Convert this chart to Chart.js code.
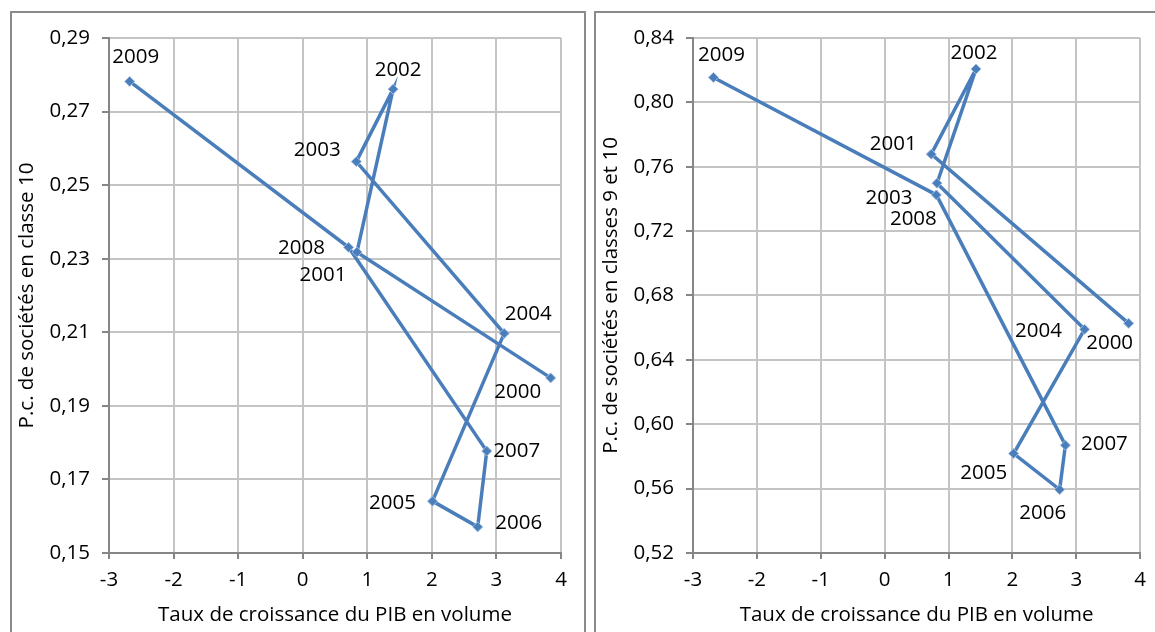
<!DOCTYPE html>
<html>
<head>
<meta charset="utf-8">
<script src="https://cdn.jsdelivr.net/npm/chart.js@4"></script>
<style>
  body { margin: 0; background: #fff; width: 1155px; height: 632px; overflow: hidden; position: relative; }
  .box { position: absolute; border: 2px solid #8a8a8a; border-bottom: none; }
  #box1 { left: 10px; top: 11px; width: 572px; height: 640px; }
  #box2 { left: 594px; top: 11px; width: 580px; height: 640px; }
  canvas { position: absolute; }
  #c1 { left: 12px; top: 13px; }
  #c2 { left: 596px; top: 13px; }
</style>
</head>
<body>
<div class="box" id="box1"></div>
<div class="box" id="box2"></div>
<canvas id="c1" width="572" height="619"></canvas>
<canvas id="c2" width="559" height="619"></canvas>
<script>
// Data
let years = ['2000', '2001', '2002', '2003', '2004', '2005', '2006', '2007', '2008', '2009'];
let pibLeft = [3.84, 0.84, 1.40, 0.83, 3.12, 2.01, 2.71, 2.85, 0.71, -2.68];
let classe10 = [0.1976, 0.2318, 0.2761, 0.2564, 0.2097, 0.1641, 0.1571, 0.1777, 0.2331, 0.2782];
let pibRight = [3.82, 0.73, 1.43, 0.82, 3.13, 2.02, 2.74, 2.83, 0.81, -2.68];
let classes9et10 = [0.6627, 0.7678, 0.8207, 0.7498, 0.659, 0.5818, 0.5594, 0.587, 0.7425, 0.8155];

let xTicks = [-3, -2, -1, 0, 1, 2, 3, 4];
let leftTicks = [0.15, 0.17, 0.19, 0.21, 0.23, 0.25, 0.27, 0.29];
let rightTicks = [0.52, 0.56, 0.60, 0.64, 0.68, 0.72, 0.76, 0.80, 0.84];

// where each year label sits relative to its point (dx, dy in px)
let leftLabelPos = [[-33, 14], [-34, 23], [5, -19], [-39, -11], [24, -19], [-40, 2], [41, -4], [30, 0], [-47, 1], [6, -24]];
let rightLabelPos = [[-19, 20], [-38, -10], [-2, -16], [-48, 15], [-46, 2], [-30, 20], [-17, 24], [39, -1], [-23, 24], [8, -22]];

const FONT = "'Open Sans', sans-serif";
const blue = '#4a7ebb';

let yearLabels = {
  id: 'yearLabels',
  afterDatasetsDraw(chart, args, opts) {
    let ctx = chart.ctx;
    let meta = chart.getDatasetMeta(0);
    ctx.save();
    ctx.font = '20.5px ' + FONT;
    ctx.fillStyle = '#000';
    ctx.textAlign = 'center';
    ctx.textBaseline = 'middle';
    meta.data.forEach((pt, i) => {
      let off = opts.pos[i];
      ctx.fillText(years[i], pt.x + off[0], pt.y + off[1]);
    });
    ctx.restore();
  }
};

function makeChart(id, xs, ys, yTicks, yMin, yMax, yTitle, labelPos, padRight) {
  let pts = xs.map((x, i) => ({ x: x, y: ys[i] }));
  return new Chart(document.getElementById(id), {
    type: 'scatter',
    data: {
      datasets: [{
        data: pts,
        showLine: true,
        borderColor: blue,
        borderWidth: 3.5,
        pointStyle: 'rectRot',
        pointRadius: 5,
        pointBackgroundColor: blue,
        pointBorderColor: '#9dbbe2',
        pointBorderWidth: 1,
        tension: 0
      }]
    },
    options: {
      responsive: false,
      animation: false,
      layout: { padding: { top: 25, right: padRight, left: 0, bottom: 0 } },
      plugins: {
        legend: { display: false },
        tooltip: { enabled: false },
        yearLabels: { pos: labelPos }
      },
      scales: {
        x: {
          type: 'linear',
          min: -3, max: 4,
          afterBuildTicks: (s) => { s.ticks = xTicks.map(v => ({ value: v })); },
          afterFit: (s) => { s.height = 79; },
          grid: { color: '#c4c4c4', lineWidth: 2, tickLength: 6, tickColor: '#868686' },
          border: { color: '#868686', width: 2 },
          ticks: { color: '#000', font: { family: FONT, size: 20.5 }, padding: 9, maxRotation: 0, autoSkip: false },
          title: { display: true, text: 'Taux de croissance du PIB en volume', color: '#000', font: { family: FONT, size: 20.5 }, padding: { top: 0, bottom: 5 } }
        },
        y: {
          type: 'linear',
          min: yMin, max: yMax,
          afterBuildTicks: (s) => { s.ticks = yTicks.map(v => ({ value: v })); },
          afterFit: (s) => { s.width = 97; },
          grid: { color: '#c4c4c4', lineWidth: 2, tickLength: 7, tickColor: '#868686' },
          border: { color: '#868686', width: 2 },
          ticks: {
            color: '#000', font: { family: FONT, size: 20.5 }, padding: 12, autoSkip: false,
            callback: (v) => v.toFixed(2).replace('.', ',')
          },
          title: { display: true, text: yTitle, color: '#000', font: { family: FONT, size: 20.5 }, padding: { top: 3, bottom: 0 } }
        }
      }
    },
    plugins: [yearLabels]
  });
}

makeChart('c1', pibLeft, classe10, leftTicks, 0.15, 0.29, 'P.c. de sociétés en classe 10', leftLabelPos, 23);
makeChart('c2', pibRight, classes9et10, rightTicks, 0.52, 0.84, 'P.c. de sociétés en classes 9 et 10', rightLabelPos, 10);
</script>
</body>
</html>
